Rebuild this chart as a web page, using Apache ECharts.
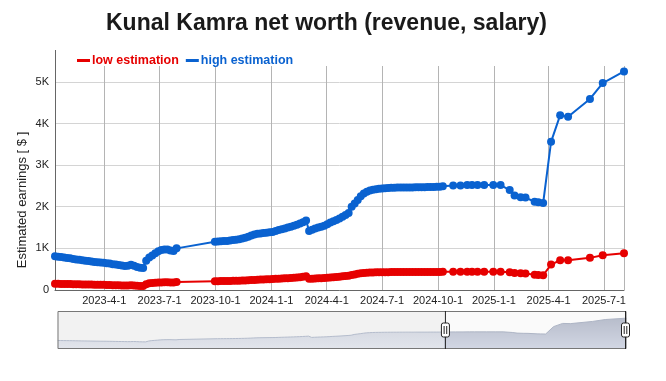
<!DOCTYPE html>
<html><head><meta charset="utf-8">
<script src="https://cdn.jsdelivr.net/npm/echarts@6/dist/echarts.min.js"></script>
<style>html,body{margin:0;padding:0;background:#fff}#c{width:666px;height:381px}</style>
</head><body><div id="c"></div>
<script>
const dates = [
'2023-01-10','2023-01-15','2023-01-20','2023-01-25','2023-01-30','2023-02-04','2023-02-09','2023-02-14','2023-02-19','2023-02-24',
'2023-03-01','2023-03-06','2023-03-11','2023-03-16','2023-03-21','2023-03-26','2023-03-31','2023-04-05','2023-04-10','2023-04-15',
'2023-04-20','2023-04-25','2023-04-30','2023-05-05','2023-05-10','2023-05-15','2023-05-20','2023-05-25','2023-05-30','2023-06-04',
'2023-06-09','2023-06-14','2023-06-19','2023-06-24','2023-06-29','2023-07-04','2023-07-09','2023-07-14','2023-07-19','2023-07-24','2023-07-29',
'2023-09-30','2023-10-05','2023-10-10','2023-10-15','2023-10-20','2023-10-25','2023-10-30','2023-11-04','2023-11-09','2023-11-14',
'2023-11-19','2023-11-24','2023-11-29','2023-12-04','2023-12-09','2023-12-14','2023-12-19','2023-12-24','2023-12-29','2024-01-03',
'2024-01-08','2024-01-13','2024-01-18','2024-01-23','2024-01-28','2024-02-02','2024-02-07','2024-02-12','2024-02-17','2024-02-22',
'2024-02-27','2024-03-03','2024-03-08','2024-03-13','2024-03-18','2024-03-23','2024-03-28','2024-04-02','2024-04-07','2024-04-12',
'2024-04-17','2024-04-22','2024-04-27','2024-05-02','2024-05-07','2024-05-12','2024-05-17','2024-05-22','2024-05-27','2024-06-01',
'2024-06-06','2024-06-11','2024-06-16','2024-06-21','2024-06-26','2024-07-01','2024-07-06','2024-07-11','2024-07-16','2024-07-21',
'2024-07-26','2024-07-31','2024-08-05','2024-08-10','2024-08-15','2024-08-20','2024-08-25','2024-08-30','2024-09-04','2024-09-09',
'2024-09-14','2024-09-19','2024-09-24','2024-09-29','2024-10-04','2024-10-09',
'2024-10-26','2024-11-07','2024-11-18','2024-11-26','2024-12-05','2024-12-16','2024-12-31','2025-01-12','2025-01-27','2025-02-04',
'2025-02-14','2025-02-22','2025-03-09','2025-03-15','2025-03-23','2025-04-05','2025-04-20','2025-05-03','2025-06-08','2025-06-29','2025-08-03'
];
const highEstimation = [
810,800,790,780,770,760,745,735,725,715,
705,695,685,675,665,660,655,645,635,620,
610,600,590,575,580,605,580,550,535,530,
700,780,830,880,930,960,970,975,950,935,1000,
1160,1165,1170,1175,1180,1190,1200,1210,1220,1235,
1255,1280,1310,1335,1350,1360,1370,1375,1385,1395,
1420,1440,1460,1480,1500,1520,1545,1570,1600,1630,
1670,1420,1450,1475,1500,1520,1545,1580,1620,1650,
1680,1720,1760,1800,1850,2000,2080,2160,2250,2320,
2360,2390,2410,2420,2430,2440,2445,2450,2455,2455,
2460,2460,2465,2465,2460,2465,2470,2470,2470,2470,
2475,2475,2475,2480,2480,2490,
2510,2510,2520,2520,2520,2520,2520,2520,2400,2270,
2230,2220,2120,2110,2090,3560,4200,4160,4590,4970,5250
];
const lowEstimation = [
150,148,147,145,143,142,140,138,136,135,
133,131,130,128,127,126,125,122,120,117,
115,112,110,106,107,112,107,100,97,96,
140,160,170,175,180,183,185,186,182,180,190,
212,213,214,215,216,218,220,222,224,226,
229,233,238,242,246,250,253,256,260,264,
268,272,276,280,285,290,295,300,308,318,
328,268,272,276,280,284,290,296,302,308,
314,320,328,335,345,362,375,388,400,410,
416,420,422,424,425,427,428,429,430,430,
431,431,432,432,431,432,433,433,433,433,
434,434,434,435,435,437,
440,440,440,440,440,440,440,440,425,410,
400,395,365,360,355,610,715,715,772,835,885
];
const seriesNames = ['low estimation', 'high estimation'];
const titleText = 'Kunal Kamra net worth (revenue, salary)';
const yAxisName = 'Estimated earnings [ $ ]';

const RED = '#e60000', BLUE = '#0a62d0';
const FONT = 'Liberation Sans';
const lowData = dates.map((d, i) => [d, lowEstimation[i]]);
const highData = dates.map((d, i) => [d, highEstimation[i]]);

const grad = (a, b) => new echarts.graphic.LinearGradient(0, 0, 0, 1, [{ offset: 0, color: a }, { offset: 1, color: b }]);

const chart = echarts.init(document.getElementById('c'));
chart.setOption({
  animation: false,
  title: { text: titleText, left: 101, top: 7,
    textStyle: { fontFamily: FONT, fontSize: 23, fontWeight: 'bold', color: '#1a1a1a' } },
  legend: { left: 72, top: 49, icon: 'rect', itemWidth: 13, itemHeight: 3, itemGap: 7,
    data: [ { name: seriesNames[0], textStyle: { color: RED } }, { name: seriesNames[1], textStyle: { color: BLUE } } ],
    textStyle: { fontFamily: FONT, fontSize: 12.5, fontWeight: 'bold', padding: [0, 0, 0, -3] } },
  graphic: [{ type: 'line', shape: { x1: 55.5, y1: 50, x2: 55.5, y2: 66 }, style: { stroke: '#666', lineWidth: 1 }, silent: true }],
  grid: { left: 55, right: 42, top: 66, bottom: 91 },
  xAxis: [{
    type: 'time', min: 'dataMin', max: 'dataMax', splitNumber: 10,
    axisLine: { lineStyle: { color: '#666' } }, axisTick: { show: false },
    axisLabel: { formatter: '{yyyy}-{M}-{d}', color: '#222', fontSize: 11, fontFamily: FONT, margin: 5, hideOverlap: false },
    splitLine: { show: true, lineStyle: { color: '#b4b4b4' } }
  }, { type: 'time', show: false, min: 'dataMin', max: 'dataMax' }],
  yAxis: {
    type: 'value', min: 0, max: v => v.max * 1.025, interval: 1000,
    name: yAxisName, nameLocation: 'middle', nameGap: 26, nameMoveOverlap: false,
    nameTextStyle: { fontFamily: FONT, fontSize: 13, color: '#222', padding: [0, 0, 0, -44] },
    axisLine: { show: true, lineStyle: { color: '#666' } }, axisTick: { show: false },
    axisLabel: { formatter: v => v === 0 ? '0' : (v / 1000) + 'K', color: '#222', fontSize: 11, fontFamily: FONT, showMaxLabel: false, margin: 6 },
    splitLine: { show: true, showMaxLine: false, lineStyle: { color: '#d4d4d4' } }
  },
  dataZoom: [{
    type: 'slider', xAxisIndex: 1, filterMode: 'none', start: 68, end: 100,
    left: 55, right: 42, top: 311, height: 38, showDetail: false, brushSelect: false,
    backgroundColor: '#f2f2f2', borderColor: '#777', borderRadius: 0,
    fillerColor: 'rgba(255,255,255,0.6)',
    dataBackground: { lineStyle: { color: '#b4bccc', width: 1 }, areaStyle: { color: grad('#e2e5ec', '#cdd1db'), opacity: 1 } },
    selectedDataBackground: { lineStyle: { color: '#34466e', width: 1 }, areaStyle: { color: grad('#8f9bbb', '#4d5a7e'), opacity: 1 } },
    handleIcon: 'path://M0,-19V-7M0,7V19M-2,-7h4a2,2 0 0 1 2,2v10a2,2 0 0 1 -2,2h-4a2,2 0 0 1 -2,-2v-10a2,2 0 0 1 2,-2zM-1.3,-4V4M1.3,-4V4',
    handleSize: '100%', handleStyle: { color: '#fff', borderColor: '#222', borderWidth: 1 },
    moveHandleSize: 2, moveHandleStyle: { color: '#555', opacity: 1 },
    emphasis: { handleStyle: { borderColor: '#222' }, moveHandleStyle: { color: '#555' } }
  }],
  series: [
    { name: seriesNames[0], type: 'line', data: lowData, color: RED, symbol: 'circle', symbolSize: 8, lineStyle: { width: 2 } },
    { name: seriesNames[1], type: 'line', data: highData, color: BLUE, symbol: 'circle', symbolSize: 8, lineStyle: { width: 2 } },
    { name: 'shadow', type: 'line', xAxisIndex: 1, data: highData, symbol: 'none', silent: true, lineStyle: { opacity: 0 }, tooltip: { show: false } }
  ]
});
</script></body></html>
